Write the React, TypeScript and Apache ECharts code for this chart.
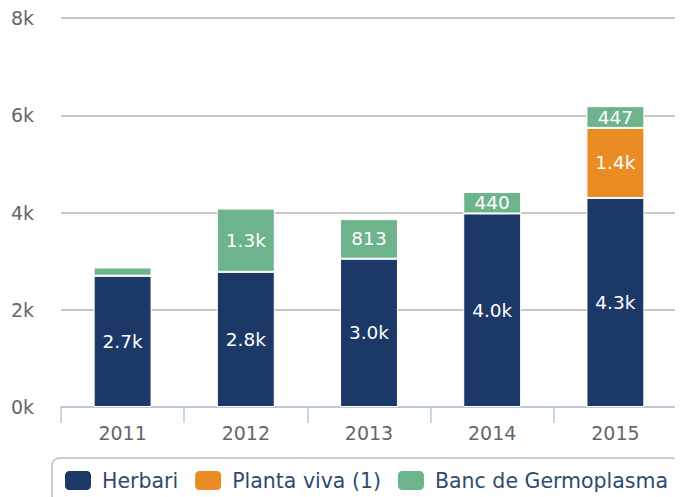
import React, { useEffect, useRef } from "react";
import * as echarts from "echarts";

const years = ["2011", "2012", "2013", "2014", "2015"];
const herbari = [2700, 2780, 3050, 3980, 4300];
const plantaViva = [0, 0, 0, 0, 1440];
const banc = [170, 1300, 813, 440, 447];
const legendNames = ["Herbari", "Planta viva (1)", "Banc de Germoplasma"];

const fmt = (v: number) => {
  if (!v || v < 300) return "";
  return v >= 1000 ? (v / 1000).toFixed(1) + "k" : String(v);
};

const FONT = "DejaVu Sans";

export default function App() {
  const ref = useRef<HTMLDivElement>(null);
  useEffect(() => {
    const chart = echarts.init(ref.current!, null, { renderer: "svg" });
    const label = {
      show: true,
      position: "inside",
      color: "#fff",
      fontSize: 18.5,
      fontFamily: FONT,
      formatter: (p: any) => fmt(p.value),
    };
    const mk = (name: string, data: number[], color: string) => ({
      name,
      type: "bar",
      stack: "t",
      data,
      barWidth: "47%",
      itemStyle: { color, borderColor: "#fff", borderWidth: 1 },
      label,
    });
    chart.setOption({
      animation: false,
      textStyle: { fontFamily: FONT },
      grid: { left: 52, right: 6, top: 10, bottom: 90, containLabel: false },
      legend: {
        left: 44,
        top: 450,
        padding: [11, 11],
        borderColor: "#999",
        borderWidth: 1,
        borderRadius: 7,
        itemWidth: 28,
        itemHeight: 21,
        itemGap: 15,
        icon: "roundRect",
        textStyle: {
          color: "#2e4b6d",
          fontSize: 20.5,
          fontFamily: FONT,
          padding: [0, 0, 0, 5],
        },
        data: legendNames,
      },
      xAxis: {
        type: "category",
        data: years,
        axisLine: { lineStyle: { color: "#b8c8dc", width: 1.5 } },
        axisTick: { show: true, length: 16, lineStyle: { color: "#b8c8dc", width: 1.5 } },
        axisLabel: { color: "#666", fontSize: 19, margin: 16, fontFamily: FONT },
      },
      yAxis: {
        type: "value",
        min: 0,
        max: 8000,
        interval: 2000,
        axisLine: { show: false },
        axisTick: { show: false },
        splitLine: { lineStyle: { color: "#c8c8c8", width: 2 } },
        axisLabel: {
          color: "#666",
          fontSize: 19,
          fontFamily: FONT,
          align: "left",
          margin: 50,
          verticalAlign: "middle",
          padding: [10, 0, 0, 0],
          formatter: (v: number) => v / 1000 + "k",
        },
      },
      series: [
        mk(legendNames[0], herbari, "#1c3867"),
        mk(legendNames[1], plantaViva, "#e88c23"),
        mk(legendNames[2], banc, "#6db38c"),
      ],
    });
    return () => chart.dispose();
  }, []);
  return <div ref={ref} style={{ width: 675, height: 489 }} />;
}
